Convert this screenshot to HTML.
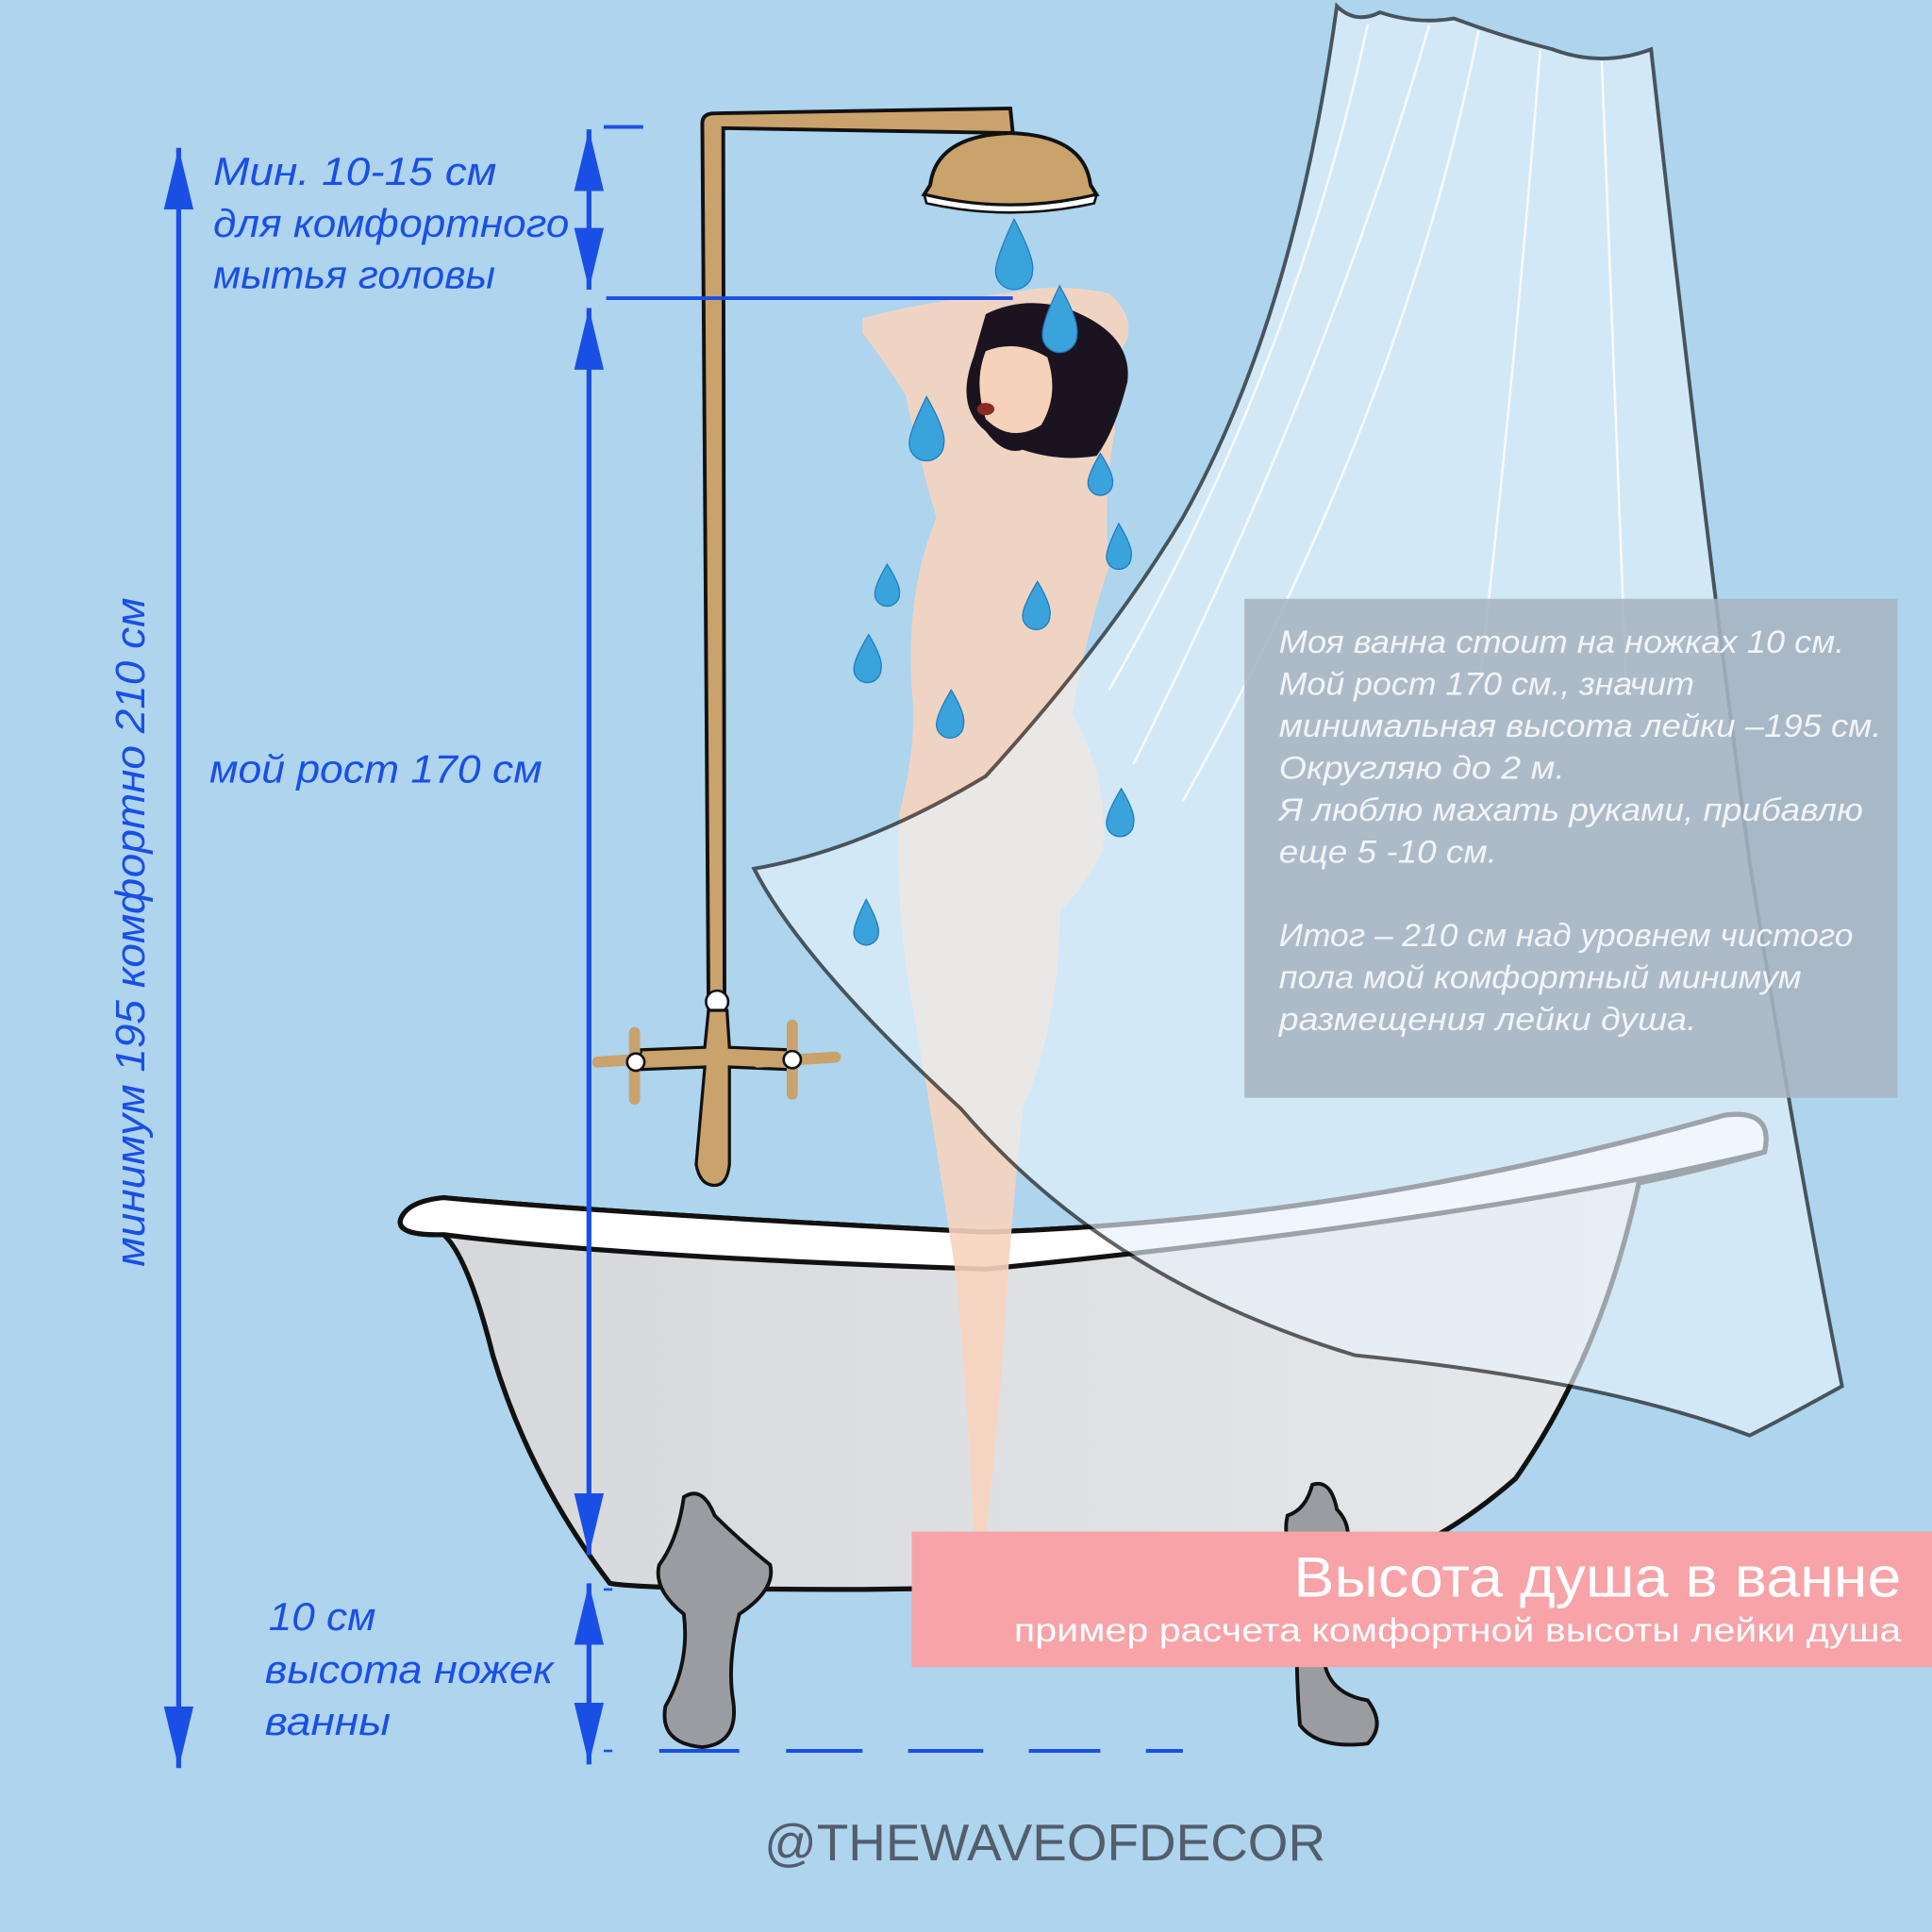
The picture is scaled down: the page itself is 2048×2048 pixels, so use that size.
<!DOCTYPE html>
<html><head><meta charset="utf-8"><style>
html,body{margin:0;padding:0;background:#aed4ee}
svg{display:block}
.b{font-family:"Liberation Sans",sans-serif;font-style:italic;fill:#1a4fe6}
.g{font-family:"Liberation Sans",sans-serif;font-style:italic;fill:#f2f4f7;font-size:26px}
</style></head><body>
<svg width="2048" height="2048" viewBox="0 0 1568 1568" xmlns="http://www.w3.org/2000/svg">
<defs>
<marker id="ah" viewBox="0 0 50 24" refX="50" refY="12" markerWidth="50" markerHeight="24" markerUnits="userSpaceOnUse" orient="auto-start-reverse"><path d="M50 12 L0 0 L0 24Z" fill="#1a4fe6"/></marker>
<linearGradient id="tub" x1="0" x2="1"><stop offset="0" stop-color="#d6d7db"/><stop offset="1" stop-color="#e8eaee"/></linearGradient>
</defs>
<rect width="1568" height="1568" fill="#aed4ee"/>
<!-- bathtub -->
<path d="M325 990 Q330 975 360 972 Q500 985 800 1000 Q1100 990 1400 905 Q1440 900 1432 935 Q1380 950 1330 960 Q1300 1100 1230 1200 Q1150 1270 1060 1285 L700 1290 Q520 1290 495 1285 Q430 1200 400 1100 Q380 1020 360 1002 Q322 1003 325 990Z" fill="url(#tub)" stroke="#111" stroke-width="4"/>
<path d="M325 990 Q330 975 360 972 Q500 985 800 1000 Q1100 990 1400 905 Q1440 900 1432 935 Q1200 990 800 1030 Q500 1020 360 1002 Q322 1003 325 990Z" fill="#fff" stroke="#111" stroke-width="4"/>
<!-- feet -->
<path d="M555 1215 Q570 1205 580 1230 Q600 1250 625 1270 Q630 1290 600 1310 Q590 1350 595 1380 Q600 1415 570 1418 Q535 1415 540 1385 Q560 1350 555 1310 Q530 1290 535 1270 Q550 1250 555 1215Z" fill="#9a9ca2" stroke="#111" stroke-width="3"/>
<path d="M1065 1205 Q1080 1200 1085 1225 Q1100 1240 1090 1265 Q1070 1300 1075 1350 Q1080 1375 1110 1380 Q1125 1400 1110 1415 Q1070 1420 1055 1400 Q1050 1340 1055 1280 Q1040 1250 1045 1230 Q1060 1225 1065 1205Z" fill="#9a9ca2" stroke="#111" stroke-width="3"/>
<!-- pipe -->
<path d="M570 100 Q570 92 580 92 L820 88 L822 108 L587 104 L588 810 L575 810 Z" fill="#c9a26c" stroke="#111" stroke-width="3"/>
<path d="M755 150 Q760 110 820 108 Q880 110 885 150 L890 158 Q820 175 750 158Z" fill="#c9a26c" stroke="#111" stroke-width="3"/>
<path d="M750 158 Q820 175 890 158 L888 165 Q820 180 752 165Z" fill="#fff" stroke="#111" stroke-width="2"/>
<!-- mixer -->
<circle cx="582" cy="813" r="9" fill="#fff" stroke="#111" stroke-width="2"/>
<path d="M575 820 L590 820 L592 850 L640 852 L640 868 L592 866 L592 945 Q590 962 580 962 Q568 962 565 945 L572 866 L520 868 L520 852 L572 850Z" fill="#c9a26c" stroke="#111" stroke-width="2.5"/>
<path d="M485 862 L545 858 M515 838 L515 892 M615 862 L678 858 M643 832 L643 888" stroke="#c9a26c" stroke-width="9" stroke-linecap="round"/>
<circle cx="516" cy="862" r="7" fill="#fff" stroke="#111" stroke-width="2"/><circle cx="643" cy="860" r="7" fill="#fff" stroke="#111" stroke-width="2"/>
<!-- woman -->
<path d="M700 258 Q750 245 800 240 L830 236 Q860 230 900 238 Q920 255 915 275 Q900 300 905 350 Q895 400 900 460 Q880 520 870 580 Q900 630 895 690 Q880 720 860 740 Q860 830 830 900 Q820 1000 815 1080 Q810 1160 800 1245 L790 1245 Q785 1120 775 1030 Q760 930 745 840 Q725 740 730 660 Q745 600 740 560 Q735 480 760 420 Q745 370 735 320 Q715 290 700 270Z" fill="#f7d4be" opacity="0.9"/>
<path d="M800 255 Q830 240 865 250 Q920 270 915 310 Q905 350 890 370 Q860 375 830 365 Q815 370 800 350 Q775 330 790 290Z" fill="#1b1420"/>
<path d="M800 285 Q825 275 850 290 Q860 320 845 345 Q820 360 800 340 Q790 310 800 285Z" fill="#f6d2bb"/>
<ellipse cx="800" cy="332" rx="7" ry="5" fill="#8a2a20"/>
<!-- curtain -->
<path d="M1085 5 Q1100 20 1120 10 Q1150 20 1180 15 Q1220 30 1260 40 Q1300 55 1340 40 Q1380 400 1420 700 Q1460 950 1495 1125 Q1450 1150 1420 1165 Q1300 1120 1100 1100 Q900 1040 780 900 Q650 780 612 705 Q700 690 800 630 Q900 520 960 420 Q1050 260 1085 5Z" fill="#e8f3fb" opacity="0.65" stroke="#111" stroke-width="3"/>
<g stroke="#fff" stroke-width="2" opacity="0.8" fill="none">
<path d="M1110 20 Q1050 300 900 560"/><path d="M1160 20 Q1080 300 920 620"/><path d="M1200 25 Q1140 330 960 650"/><path d="M1250 40 Q1230 300 1200 560"/><path d="M1300 50 Q1310 300 1320 560"/>
</g>
<!-- drops -->
<g fill="#3aa3dc" stroke="#1f7cc0" stroke-width="1">
<path d="M823 178 Q840 210 838 220 A15 15 0 1 1 808 220 Q808 210 823 178Z"/>
<path d="M860 232 Q876 260 874 272 A14 14 0 1 1 846 272 Q846 260 860 232Z"/>
<path d="M752 322 Q768 350 766 360 A14 14 0 1 1 738 360 Q738 350 752 322Z"/>
<path d="M893 368 Q904 385 903 392 A10 10 0 1 1 883 392 Q883 385 893 368Z"/>
<path d="M908 425 Q920 445 918 452 A10 10 0 1 1 898 452 Q898 445 908 425Z"/>
<path d="M720 458 Q731 475 730 482 A10 10 0 1 1 710 482 Q710 475 720 458Z"/>
<path d="M842 472 Q854 492 852 500 A11 11 0 1 1 830 500 Q830 492 842 472Z"/>
<path d="M705 515 Q717 535 715 543 A11 11 0 1 1 693 543 Q693 535 705 515Z"/>
<path d="M772 560 Q784 580 782 588 A11 11 0 1 1 760 588 Q760 580 772 560Z"/>
<path d="M910 640 Q922 660 920 668 A11 11 0 1 1 898 668 Q898 660 910 640Z"/>
<path d="M703 730 Q714 750 713 757 A10 10 0 1 1 693 757 Q693 750 703 730Z"/>
</g>
<!-- gray box -->
<rect x="1010" y="486" width="530" height="405" fill="#a7b4c2" opacity="0.88"/>
<g class="g" lengthAdjust="spacingAndGlyphs">
<text x="1038" y="530" textLength="459" lengthAdjust="spacingAndGlyphs">Моя ванна стоит на ножках 10 см.</text>
<text x="1038" y="564" textLength="337" lengthAdjust="spacingAndGlyphs">Мой рост 170 см., значит</text>
<text x="1038" y="598" textLength="489" lengthAdjust="spacingAndGlyphs">минимальная высота лейки –195 см.</text>
<text x="1038" y="632" textLength="232" lengthAdjust="spacingAndGlyphs">Округляю до 2 м.</text>
<text x="1038" y="666" textLength="474" lengthAdjust="spacingAndGlyphs">Я люблю махать руками, прибавлю</text>
<text x="1038" y="700" textLength="177" lengthAdjust="spacingAndGlyphs">еще 5 -10 см.</text>
<text x="1038" y="768" textLength="466" lengthAdjust="spacingAndGlyphs">Итог – 210 см над уровнем чистого</text>
<text x="1038" y="802" textLength="424" lengthAdjust="spacingAndGlyphs">пола мой комфортный минимум</text>
<text x="1038" y="836" textLength="339" lengthAdjust="spacingAndGlyphs">размещения лейки душа.</text>
</g>
<!-- pink box -->
<rect x="740" y="1243" width="828" height="110" fill="#f7a3a8"/>
<text x="1050" y="1296" textLength="493" lengthAdjust="spacingAndGlyphs" font-family="Liberation Sans,sans-serif" font-size="46" fill="#fff">Высота душа в ванне</text>
<text x="823" y="1332" textLength="720" lengthAdjust="spacingAndGlyphs" font-family="Liberation Sans,sans-serif" font-size="27" fill="#fff">пример расчета комфортной высоты лейки душа</text>
<!-- dimension lines -->
<g stroke="#1a4fe6" stroke-width="4" fill="none">
<line x1="145" y1="120" x2="145" y2="1435" marker-start="url(#ah)" marker-end="url(#ah)"/>
<line x1="478" y1="105" x2="478" y2="235" marker-start="url(#ah)" marker-end="url(#ah)"/>
<line x1="478" y1="250" x2="478" y2="1262" marker-start="url(#ah)" marker-end="url(#ah)"/>
<line x1="478" y1="1285" x2="478" y2="1432" marker-start="url(#ah)" marker-end="url(#ah)"/>
<line x1="490" y1="103" x2="522" y2="103" stroke-width="3"/>
<line x1="492" y1="242" x2="822" y2="242" stroke-width="3"/>
<line x1="490" y1="1290" x2="497" y2="1290" stroke-width="2"/>
<line x1="490" y1="1421" x2="497" y2="1421" stroke-width="2"/>
<path d="M535 1421 H600 M638 1421 H700 M737 1421 H798 M835 1421 H893 M930 1421 H960" stroke-width="3"/>
</g>
<g class="b" font-size="32">
<text x="173" y="150" textLength="230" lengthAdjust="spacingAndGlyphs">Мин. 10-15 см</text>
<text x="173" y="192" textLength="289" lengthAdjust="spacingAndGlyphs">для комфортного</text>
<text x="173" y="234" textLength="229" lengthAdjust="spacingAndGlyphs">мытья головы</text>
<text x="170" y="635" textLength="270" lengthAdjust="spacingAndGlyphs">мой рост 170 см</text>
<text x="218" y="1323" textLength="87" lengthAdjust="spacingAndGlyphs">10 см</text>
<text x="215" y="1366" textLength="234" lengthAdjust="spacingAndGlyphs">высота ножек</text>
<text x="215" y="1408" textLength="102" lengthAdjust="spacingAndGlyphs">ванны</text>
<text transform="translate(117 1028) rotate(-90)" font-size="33" textLength="543" lengthAdjust="spacingAndGlyphs">минимум 195  комфортно 210 см</text>
</g>
<text x="848" y="1510" text-anchor="middle" font-family="Liberation Sans,sans-serif" font-size="42" fill="#535d6c">@THEWAVEOFDECOR</text>
</svg>
</body></html>
